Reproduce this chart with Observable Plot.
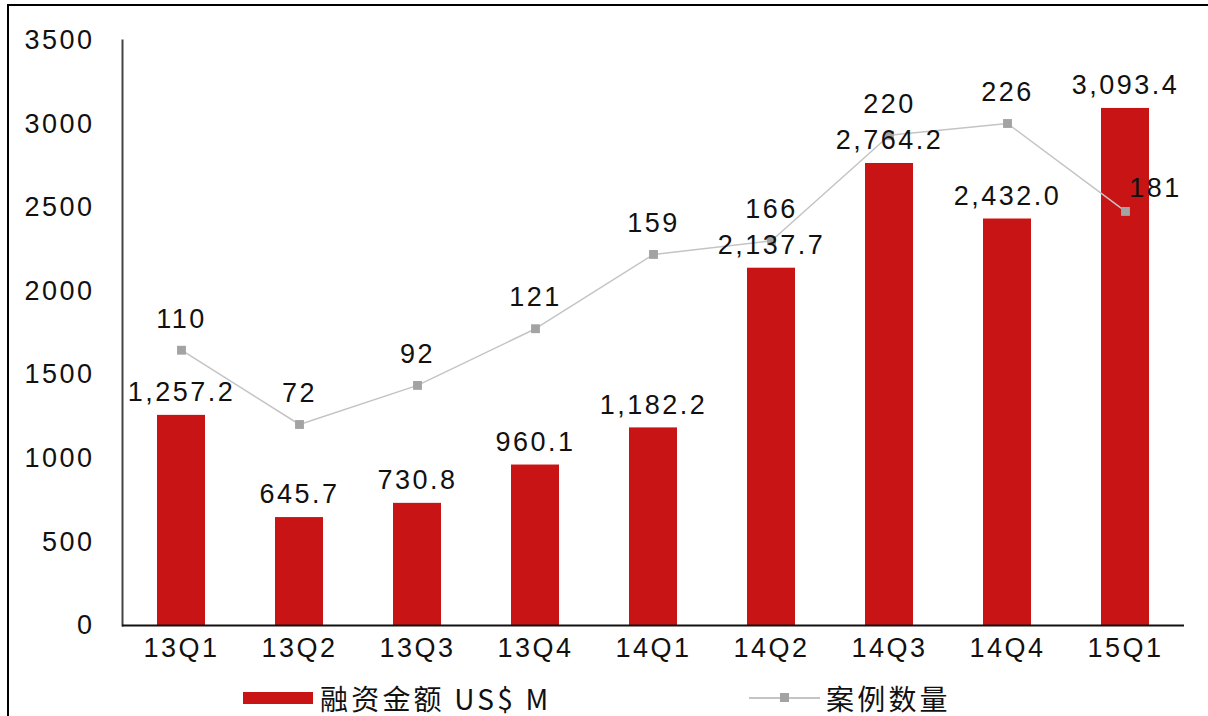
<!DOCTYPE html>
<html><head><meta charset="utf-8">
<script src="https://cdn.jsdelivr.net/npm/d3@7"></script>
<script src="https://cdn.jsdelivr.net/npm/@observablehq/plot@0.6"></script>
<style>
body{margin:0;background:#fff;width:1208px;height:716px;overflow:hidden;position:relative;font-family:"Liberation Sans",Arial,sans-serif;}
#border{position:absolute;left:7px;top:4px;width:1230px;height:740px;border:2px solid #000;pointer-events:none;}
#chart{position:absolute;left:0;top:0;}
#chart svg text{letter-spacing:2.5px;}
.lg{position:absolute;}
.lgtext{position:absolute;top:683px;font-family:"Noto Sans CJK SC","Liberation Sans",sans-serif;font-size:28px;line-height:30px;height:30px;color:#111;letter-spacing:3.2px;white-space:nowrap;}
</style></head>
<body>
<div id="chart"></div>
<div class="lg" style="left:243px;top:692px;width:70px;height:12px;background:#c81414;"></div>
<div class="lgtext" style="left:320px;">融资金额 US$ M</div>
<div class="lg" style="left:749px;top:697px;width:71px;height:2px;background:#c4c4c4;"></div>
<div class="lg" style="left:780px;top:693px;width:9px;height:9px;background:#a3a3a3;"></div>
<div class="lgtext" style="left:826px;">案例数量</div>
<div id="border"></div>
<script>
const quarters = ["13Q1","13Q2","13Q3","13Q4","14Q1","14Q2","14Q3","14Q4","15Q1"];
const amounts = [1257.2, 645.7, 730.8, 960.1, 1182.2, 2137.7, 2764.2, 2432.0, 3093.4];
const cases = [110, 72, 92, 121, 159, 166, 220, 226, 181];
const yTicks = [0, 500, 1000, 1500, 2000, 2500, 3000, 3500];
// secondary (hidden) axis for case counts, expressed in primary-axis units
const secScale = 11.694, secOffset = 360.6;

const data = quarters.map((q, i) => ({q, amount: amounts[i], cases: cases[i], caseY: cases[i] * secScale + secOffset}));
const fmt = d3.format(",.1f");
const font = "Liberation Sans, Arial, sans-serif";

const chart = Plot.plot({
  width: 1208,
  height: 675,
  marginTop: 40,
  marginBottom: 50,
  marginLeft: 122,
  marginRight: 24,
  style: {fontFamily: font, fontSize: "27px", color: "#111", background: "transparent"},
  x: {domain: quarters, paddingInner: 0.59, paddingOuter: 0.295, label: null},
  y: {domain: [0, 3500], label: null},
  marks: [
    Plot.axisY({ticks: yTicks, tickFormat: d => String(d), tickSize: 0, tickPadding: 28, label: null, fontSize: 27}),
    Plot.axisX({tickSize: 0, tickPadding: 12, label: null, fontSize: 27}),
    Plot.barY(data, {x: "q", y: "amount", fill: "#c81414"}),
    Plot.frame({anchor: "left", stroke: "#444", strokeWidth: 2}),
    Plot.ruleY([0], {stroke: "#111", strokeWidth: 2}),
    Plot.line(data, {x: "q", y: "caseY", stroke: "#c4c4c4", strokeWidth: 1.5}),
    Plot.dot(data, {x: "q", y: "caseY", symbol: "square", r: 5, fill: "#a3a3a3", stroke: "none"}),
    Plot.text(data, {x: "q", y: "amount", text: d => fmt(d.amount), dy: -23, lineAnchor: "middle", fill: "#111"}),
    Plot.text(data.slice(0, -1), {x: "q", y: "caseY", text: d => String(d.cases), dy: -31, lineAnchor: "middle", fill: "#111"}),
    Plot.text(data.slice(-1), {x: "q", y: "caseY", text: d => String(d.cases), dx: 30, dy: -23, lineAnchor: "middle", fill: "#111"})
  ]
});
document.getElementById("chart").appendChild(chart);
</script>
</body></html>
